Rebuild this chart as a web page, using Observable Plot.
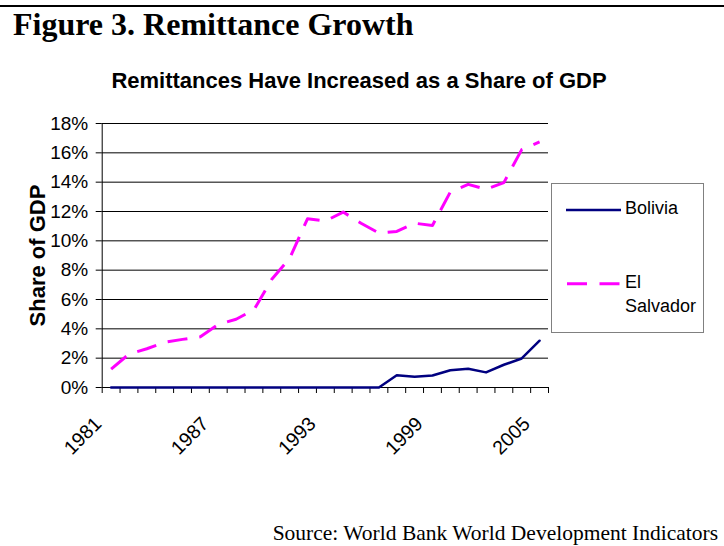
<!DOCTYPE html>
<html>
<head>
<meta charset="utf-8">
<script src="https://cdn.jsdelivr.net/npm/d3@7"></script>
<script src="https://cdn.jsdelivr.net/npm/@observablehq/plot@0.6"></script>
<style>
  html, body { margin: 0; padding: 0; background: #fff; }
  #wrap { position: relative; width: 724px; height: 546px; overflow: hidden; }
  #wrap > * { position: absolute; }
  .sans { font-family: "Liberation Sans", Arial, sans-serif; }
  .serif { font-family: "Liberation Serif", "Times New Roman", serif; }
</style>
</head>
<body>
<div id="wrap">
  <div id="chart" style="left:0;top:0;"></div>
  <div style="left:0;top:5px;width:724px;height:2px;background:#000;"></div>
  <div class="serif" style="left:13px;top:8px;font-size:32px;line-height:32px;font-weight:bold;white-space:nowrap;">Figure 3. Remittance Growth</div>
  <div class="sans" style="left:0;width:718px;text-align:center;top:69.7px;font-size:22px;line-height:22px;font-weight:bold;white-space:nowrap;">Remittances Have Increased as a Share of GDP</div>
  <div id="legend" style="left:551px;top:183px;width:151px;height:148px;border:1px solid #808080;background:#fff;"></div>
  <div class="serif" style="right:6px;top:522.7px;font-size:21.5px;line-height:21.5px;white-space:nowrap;">Source: World Bank World Development Indicators</div>
</div>
<script>
const years = [1981,1982,1983,1984,1985,1986,1987,1988,1989,1990,1991,1992,1993,1994,1995,1996,1997,1998,1999,2000,2001,2002,2003,2004,2005];
const bolivia = [0,0,0,0,0,0,0,0,0,0,0,0,0,0,0,0,0.84,0.73,0.82,1.18,1.28,1.03,1.55,1.98,3.19];
const elSalvador = [1.25,2.28,2.64,3.08,3.28,3.46,4.3,4.65,5.3,7.38,8.8,11.5,11.35,11.96,11.2,10.53,10.64,11.2,11.05,13.33,13.85,13.51,13.97,16.22,16.75];
const seriesNames = ["Bolivia", "El Salvador"];
const yTicks = [0,2,4,6,8,10,12,14,16,18];
const labelYears = [1981,1987,1993,1999,2005];
const colors = ["#000080", "#FF00FF"];

const boundaries = years.map(y => y - 0.5).concat([years[years.length-1] + 0.5]);
const rows = [];
years.forEach((y, i) => {
  rows.push({year: y, value: bolivia[i], series: seriesNames[0]});
  rows.push({year: y, value: elSalvador[i], series: seriesNames[1]});
});

const font = '"Liberation Sans", Arial, sans-serif';
const chart = Plot.plot({
  width: 724,
  height: 546,
  marginTop: 123,
  marginLeft: 101.7,
  marginRight: 176,
  marginBottom: 159,
  style: {fontFamily: font, background: "transparent", overflow: "visible"},
  x: {type: "linear", domain: [boundaries[0], boundaries[boundaries.length-1]], axis: null},
  y: {domain: [0, 18], axis: null},
  marks: [
    Plot.gridY(yTicks.filter(d => d > 0), {stroke: "#000", strokeOpacity: 1, strokeWidth: 1}),
    Plot.axisY({ticks: yTicks, tickSize: 6, tickPadding: 8, tickFormat: d => d + "%", fontSize: 19, stroke: "#000", fill: "#000", label: null}),
    Plot.axisX({ticks: boundaries, tickSize: 6, tickFormat: () => "", stroke: "#000", label: null}),
    Plot.text(labelYears, {x: d => d, y: 0, text: d => String(d), rotate: -45, textAnchor: "end", lineAnchor: "bottom", dx: -8.5, dy: 37.5, fontSize: 19.5, fill: "#000"}),
    Plot.ruleX([boundaries[0]], {stroke: "#000"}),
    Plot.ruleY([0], {stroke: "#000"}),
    Plot.line(rows.filter(d => d.series === seriesNames[0]), {x: "year", y: "value", stroke: colors[0], strokeWidth: 2.5, strokeLinejoin: "round"}),
    Plot.line(rows.filter(d => d.series === seriesNames[1]), {x: "year", y: "value", stroke: colors[1], strokeWidth: 3, strokeDasharray: "20,12", strokeLinecap: "butt"}),
    Plot.text(["Share of GDP"], {frameAnchor: "left", dx: -56.7, rotate: -90, fontSize: 22, fontWeight: "bold", fill: "#000", lineAnchor: "bottom", textAnchor: "middle"})
  ]
});
document.getElementById("chart").appendChild(chart);

// legend
const lg = document.getElementById("legend");
lg.innerHTML = `
<svg width="151" height="148" style="position:absolute;left:0;top:0;overflow:visible">
  <line x1="14" x2="69" y1="26" y2="26" stroke="${colors[0]}" stroke-width="2.5"/>
  <line x1="15" x2="68" y1="99.7" y2="99.7" stroke="${colors[1]}" stroke-width="3" stroke-dasharray="20,12.5"/>
  <g font-family='${font}' font-size="18" fill="#000">
    <text x="73" y="30">${seriesNames[0]}</text>
    <text x="73" y="104">El</text>
    <text x="73" y="128">Salvador</text>
  </g>
</svg>`;
</script>
</body>
</html>
